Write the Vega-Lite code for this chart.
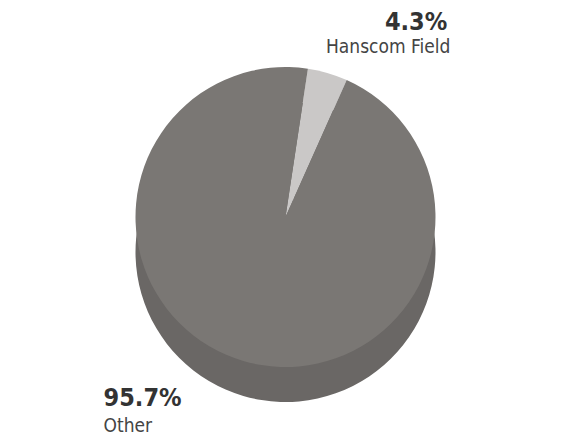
{
  "$schema": "https://vega.github.io/schema/vega-lite/v6.json",
  "width": 571,
  "height": 436,
  "autosize": {"type": "fit", "contains": "padding"},
  "padding": 0,
  "background": "white",
  "config": {"view": {"stroke": null}},
  "data": {
    "values": [
      {"cat": "Hanscom Field", "share": 4.3, "label": "4.3%", "o": 1},
      {"cat": "Other", "share": 95.7, "label": "95.7%", "o": 2}
    ]
  },
  "encoding": {
    "theta": {"field": "share", "type": "quantitative", "stack": true, "scale": {"range": [0.15, 6.4332]}},
    "order": {"field": "o", "type": "quantitative"}
  },
  "layer": [
    {"mark": {"type": "arc", "radius": 150, "yOffset": 35, "color": "#6a6765"}},
    {
      "mark": {"type": "arc", "radius": 150},
      "encoding": {
        "color": {"field": "cat", "type": "nominal", "scale": {"domain": ["Hanscom Field", "Other"], "range": ["#cac8c7", "#7a7774"]}, "legend": null}
      }
    },
    {
      "mark": {"type": "text", "radius": 170, "align": "right", "baseline": "alphabetic", "dx": 114, "dy": -24, "font": "DejaVu Sans Condensed, sans-serif", "fontSize": 25, "fontWeight": "bold", "color": "#333333"},
      "encoding": {"text": {"condition": {"test": "datum.cat === 'Hanscom Field'", "field": "label"}, "value": ""}}
    },
    {
      "mark": {"type": "text", "radius": 170, "align": "right", "baseline": "alphabetic", "dx": 117, "dy": -1, "font": "DejaVu Sans Condensed, sans-serif", "fontSize": 19, "color": "#444444"},
      "encoding": {"text": {"condition": {"test": "datum.cat === 'Hanscom Field'", "field": "cat"}, "value": ""}}
    },
    {
      "mark": {"type": "text", "radius": 190, "align": "left", "baseline": "alphabetic", "dx": -128.5, "dy": 7, "font": "DejaVu Sans Condensed, sans-serif", "fontSize": 25, "fontWeight": "bold", "color": "#333333"},
      "encoding": {"text": {"condition": {"test": "datum.cat === 'Other'", "field": "label"}, "value": ""}}
    },
    {
      "mark": {"type": "text", "radius": 190, "align": "left", "baseline": "alphabetic", "dx": -128.5, "dy": 33, "font": "DejaVu Sans Condensed, sans-serif", "fontSize": 19, "color": "#444444"},
      "encoding": {"text": {"condition": {"test": "datum.cat === 'Other'", "field": "cat"}, "value": ""}}
    }
  ]
}
